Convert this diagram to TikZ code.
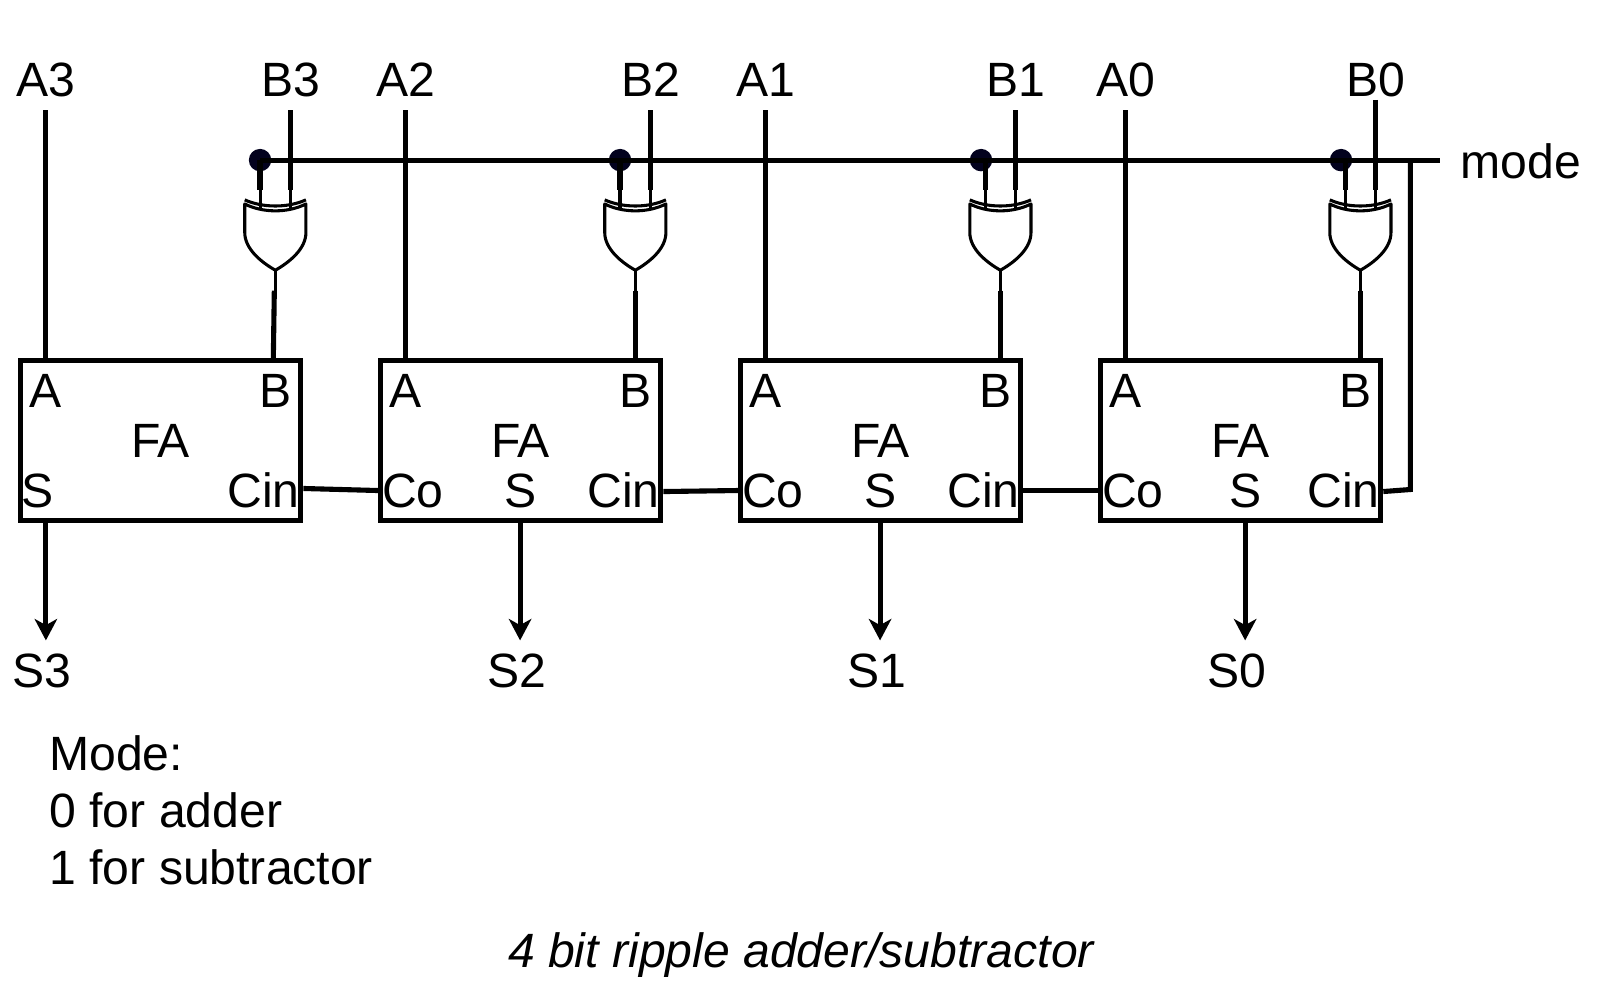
\documentclass[tikz,border=0pt]{standalone}
\usepackage{fontspec}
\setmainfont{Liberation Sans}
\usetikzlibrary{arrows.meta}
\definecolor{dotnavy}{HTML}{03021E}
\tikzset{
  wire/.style={line width=2.5pt},
  thinwire/.style={line width=1.5pt},
  fabox/.style={draw,line width=2.5pt,minimum width=137.5pt,minimum height=78.7pt,inner sep=0pt},
  txt/.style={font=\fontsize{23.6}{28}\selectfont,inner sep=0pt,anchor=base},
  tapdot/.style={circle,fill=dotnavy,minimum size=11pt,inner sep=0pt}
}
\begin{document}
\begin{tikzpicture}[x=0.5pt,y=-0.5pt]
      \useasboundingbox (0,0) rectangle (1568,981.6);

      % the four stages, left to right
      \foreach \n/\l/\g/\dx/\btop/\sx/\ix/\ox in {3/20/270/255/108/45/269/268,2/373/623/608/108/510/623/623,1/726/981/962/108/863/981/981,0/1079/1334/1315/98/1221/1334/1334}
      {
        \def\ax{\l+25}
        \node[fabox] (fa\n) at (\l+137.5,432) {};

        \node[txt] (la\n) at (\ax,400) {A};
        \node[txt] (lb\n) at (\l+250,400) {B};
        \node[txt] (lf\n) at (\l+137.5,448.5) {FA};
        \node[txt] (lc\n) at (\l+238.5,497.5) {Cin};

        % inputs
        \node[txt] (ina\n) at (\ax,95) {A\n};
        \node[txt] (inb\n) at (\g+15,95) {B\n};
        \coordinate (ta\n) at (\ax,108);
        \draw[wire] (ta\n) -- (\ax,353);

        % xor gate
        \draw[thinwire] (\g-30,196) .. controls (\g-12,204) and (\g+12,204) .. (\g+30,196);
        \draw[thinwire,line join=round] (\g-30,200) .. controls (\g-12,209) and (\g+12,209) .. (\g+30,200)
          -- (\g+30,228) .. controls (\g+30,244) and (\g+14,257) .. (\g,265)
          .. controls (\g-14,257) and (\g-30,244) .. (\g-30,228) -- cycle;

        \node[tapdot] (dot\n) at (\dx,157) {};
        \draw[wire] (\g-15,157) -- (\g-15,186);
        \draw[thinwire] (\g-15,186) -- (\g-15,205);
        \draw[wire] (\g+15,\btop) -- (\g+15,186);
        \draw[thinwire] (\g+15,186) -- (\g+15,205);

        \draw[thinwire] (\g,265) -- (\g,285);
        \draw[wire] (\ix,285) -- (\ox,353);

        % sum outputs
        \draw[wire,-{Stealth[length=10.5pt,width=11pt,inset=3pt]}] (\sx,511) -- (\sx,628);
      }

      \node[txt] (lsum3) at (37,497.5) {S};
      \node[txt] (lco2) at (405,497.5) {Co};
      \node[txt] (lsum2) at (510,497.5) {S};
      \node[txt] (lco1) at (758,497.5) {Co};
      \node[txt] (lsum1) at (863,497.5) {S};
      \node[txt] (lco0) at (1111,497.5) {Co};
      \node[txt] (lsum0) at (1221,497.5) {S};

      \node[txt] (outs3) at (41,674) {S3};
      \node[txt] (outs2) at (507,674) {S2};
      \node[txt] (outs1) at (860,674) {S1};
      \node[txt] (outs0) at (1213,674) {S0};

      % carry chain
      \draw[wire] (fa3.east |- 0,479) -- (fa2.west |- 0,481);
      \draw[wire] (fa2.east |- 0,482) -- (fa1.west |- 0,481);
      \draw[wire] (fa1.east |- 0,481) -- (fa0.west |- 0,481);

      % mode line
      \node[txt,anchor=base west] (mode) at (1432,175) {mode};
      \coordinate (modeend) at (1412,157);
      \draw[wire] (dot3.center) -- (modeend);
      \draw[wire] (1383,157) -- (1383,480) -- (fa0.east |- 0,482);

      \node[txt,anchor=base west] (note1) at (48,756) {Mode:};
      \node[txt,anchor=base west] (note2) at (48,811) {0 for adder};
      \node[txt,anchor=base west] (note3) at (48,867) {1 for subtractor};
      \node[txt,font=\fontsize{23.6}{28}\selectfont\itshape] (title) at (785.5,949) {4 bit ripple adder/subtractor};
\end{tikzpicture}
\end{document}
